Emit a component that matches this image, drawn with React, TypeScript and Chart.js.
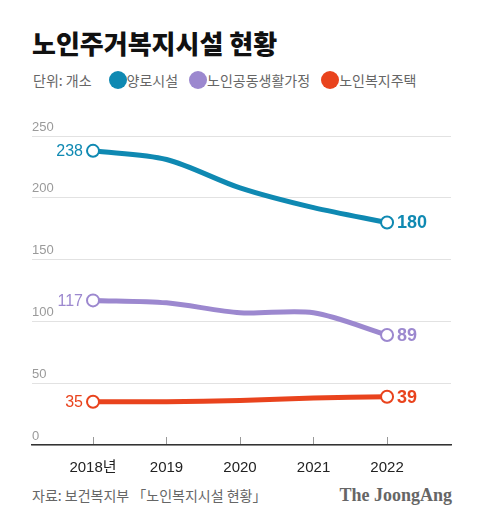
import { useEffect, useRef } from "react";
import { Chart, registerables } from "chart.js";

Chart.register(...registerables);

const years = [2018, 2019, 2020, 2021, 2022];
const nursingHomes = [238, 231, 208, 192, 180];
const groupHomes = [117, 115, 107, 107, 89];
const welfareHousing = [35, 35, 36, 38, 39];
const yTicks = [0, 50, 100, 150, 200, 250];

const seriesNames = ["양로시설", "노인공동생활가정", "노인복지주택"];
const seriesColors = ["#0f89b2", "#9c88cf", "#e9431d"];

const numFont = "'Liberation Sans', Arial, 'Noto Sans CJK KR', sans-serif";
const krFont = "'Noto Sans CJK KR', 'Noto Sans', sans-serif";

// writes the first value on the left and the last value on the right of each line
const endLabels = {
  id: "endLabels",
  afterDatasetsDraw(chart: Chart) {
    const ctx = chart.ctx;
    chart.data.datasets.forEach((ds, i) => {
      const meta = chart.getDatasetMeta(i);
      const pts = meta.data;
      const vals = ds.data as { x: number; y: number }[];
      const first = pts[0];
      const last = pts[pts.length - 1];
      ctx.save();
      ctx.fillStyle = seriesColors[i];
      ctx.textBaseline = "middle";
      ctx.font = `16px ${numFont}`;
      ctx.textAlign = "right";
      ctx.fillText(String(vals[0].y), first.x - 10, first.y + 1);
      ctx.font = `bold 18px ${numFont}`;
      ctx.textAlign = "left";
      ctx.fillText(String(vals[vals.length - 1].y), last.x + 10, last.y + 1);
      ctx.restore();
    });
  },
};

function LineChart() {
  const canvasRef = useRef<HTMLCanvasElement>(null);
  const chartRef = useRef<Chart | null>(null);

  useEffect(() => {
    if (!canvasRef.current) return;
    if (chartRef.current) chartRef.current.destroy();

    const makeSet = (i: number, values: number[]) => ({
      label: seriesNames[i],
      data: years.map((x, k) => ({ x, y: values[k] })),
      borderColor: seriesColors[i],
      backgroundColor: "#fff",
      borderWidth: 5,
      tension: 0.3,
      pointRadius: years.map((_, k) => (k === 0 || k === years.length - 1 ? 6 : 0)),
      pointBorderWidth: 2,
      pointBorderColor: seriesColors[i],
      pointBackgroundColor: "#fff",
    });

    chartRef.current = new Chart(canvasRef.current, {
      type: "line",
      data: {
        datasets: [makeSet(0, nursingHomes), makeSet(1, groupHomes), makeSet(2, welfareHousing)],
      },
      options: {
        animation: false,
        responsive: true,
        maintainAspectRatio: false,
        layout: { padding: { left: 32, right: 29, top: 36, bottom: 5 } },
        plugins: { legend: { display: false }, tooltip: { enabled: false } },
        scales: {
          x: {
            type: "linear",
            min: 2017.17,
            max: 2022.87,
            afterBuildTicks: (scale) => {
              scale.ticks = years.map((v) => ({ value: v }));
            },
            afterFit: (scale) => {
              scale.height = 30;
            },
            grid: {
              drawOnChartArea: false,
              drawTicks: true,
              tickLength: -8,
              tickColor: "#999",
              tickWidth: 1,
            },
            border: { display: true, color: "#333", width: 1.5 },
            ticks: {
              padding: 22,
              color: "#222",
              font: { size: 15, family: numFont },
              callback: (v) => (v === years[0] ? `${v}년` : `${v}`),
            },
          },
          y: {
            min: 0,
            max: 250,
            afterBuildTicks: (scale) => {
              scale.ticks = yTicks.map((v) => ({ value: v }));
            },
            grid: { color: "#e2e2e2", lineWidth: 1, drawTicks: false },
            border: { display: false },
            ticks: {
              mirror: true,
              padding: 0,
              labelOffset: -9,
              color: "#9a9a9a",
              font: { size: 13, family: numFont },
            },
          },
        },
      },
      plugins: [endLabels],
    });

    return () => {
      if (chartRef.current) {
        chartRef.current.destroy();
        chartRef.current = null;
      }
    };
  }, []);

  return (
    <div style={{ position: "absolute", left: 0, top: 100, width: 480, height: 380 }}>
      <canvas ref={canvasRef} />
    </div>
  );
}

export default function App() {
  return (
    <div
      style={{
        position: "fixed",
        left: 0,
        top: 0,
        width: 480,
        height: 523,
        background: "#fff",
        overflow: "hidden",
        fontFamily: krFont,
      }}
    >
      <div
        style={{
          position: "absolute",
          left: 32,
          top: 28,
          fontSize: 26,
          lineHeight: "30px",
          fontWeight: 900,
          color: "#111",
        }}
      >
        노인주거복지시설 현황
      </div>
      <div
        style={{
          position: "absolute",
          left: 33,
          top: 70,
          height: 20,
          display: "flex",
          alignItems: "center",
          fontSize: 14,
          color: "#666",
        }}
      >
        <span style={{ marginRight: 17 }}>단위: 개소</span>
        {seriesNames.map((name, i) => (
          <span key={name} style={{ display: "flex", alignItems: "center", marginRight: 11 }}>
            <span
              style={{
                width: 18,
                height: 18,
                borderRadius: "50%",
                background: seriesColors[i],
                display: "inline-block",
              }}
            />
            <span>{name}</span>
          </span>
        ))}
      </div>
      <LineChart />
      <div
        style={{
          position: "absolute",
          left: 32,
          top: 485,
          fontSize: 14,
          lineHeight: "20px",
          color: "#666",
        }}
      >
        자료: 보건복지부 「노인복지시설 현황」
      </div>
      <div
        style={{
          position: "absolute",
          right: 28,
          top: 484,
          fontSize: 18,
          lineHeight: "22px",
          fontWeight: 700,
          color: "#666",
          fontFamily: "'Liberation Serif', 'DejaVu Serif', serif",
        }}
      >
        The JoongAng
      </div>
    </div>
  );
}
